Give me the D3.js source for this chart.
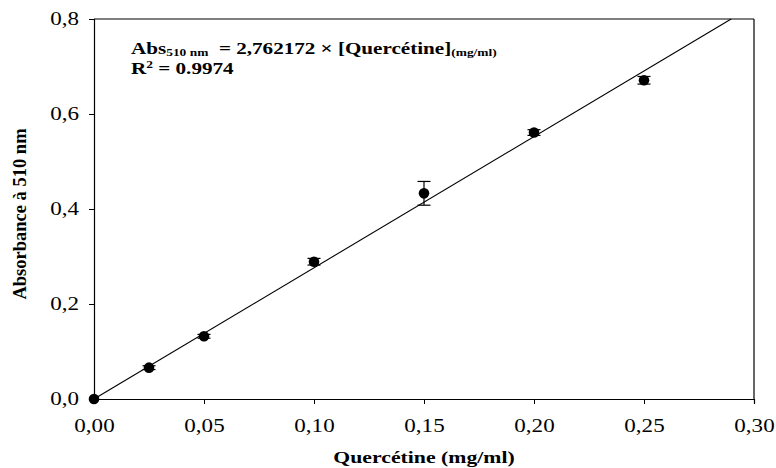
<!DOCTYPE html>
<html>
<head>
<meta charset="utf-8">
<script src="https://cdn.jsdelivr.net/npm/d3@7"></script>
<style>
  body { margin: 0; background: #fff; }
  svg { display: block; font-family: "Liberation Serif", "Times New Roman", serif; }
</style>
</head>
<body>
<svg id="chart"></svg>
<script>
// Concentrations de quercétine (mg/ml)
const concentrations = [0, 0.025, 0.05, 0.10, 0.15, 0.20, 0.25];
// Absorbance moyenne à 510 nm
const absorbances = [0, 0.066, 0.132, 0.289, 0.433, 0.561, 0.671];
// Ecart-type
const ecarts = [0, 0.004, 0.004, 0.007, 0.025, 0.006, 0.008];

const xTicks = [0, 0.05, 0.10, 0.15, 0.20, 0.25, 0.30];
const yTicks = [0, 0.2, 0.4, 0.6, 0.8];

const pente = 2.762172;

// the original picture is stretched sideways, text too
const etire = 1.28;

const width = 776, height = 468;
const margin = { top: 19, right: 22, bottom: 69, left: 94 };
const w = width - margin.left - margin.right;
const h = height - margin.top - margin.bottom;

const svg = d3.select("#chart")
    .attr("width", width)
    .attr("height", height);

const g = svg.append("g")
    .attr("transform", "translate(" + margin.left + "," + margin.top + ")");

const x = d3.scaleLinear().domain([0, 0.30]).range([0, w]);
const y = d3.scaleLinear().domain([0, 0.8]).range([h, 0]);

const fmt = (d, n) => d.toFixed(n).replace(".", ",");

// x axis
const xAxis = g.append("g")
    .attr("transform", "translate(0," + h + ")")
    .call(d3.axisBottom(x).tickValues(xTicks).tickSize(5).tickPadding(9).tickFormat(d => fmt(d, 2)));

// y axis
const yAxis = g.append("g")
    .call(d3.axisLeft(y).tickValues(yTicks).tickSize(5).tickPadding(10).tickFormat(d => fmt(d, 1)));

[xAxis, yAxis].forEach(a => {
    a.select(".domain").attr("stroke", "#000").attr("stroke-width", 1.2);
    a.selectAll(".tick line").attr("stroke", "#000");
    a.selectAll(".tick text")
        .attr("fill", "#000")
        .style("font-family", "'Liberation Serif', serif")
        .style("font-size", "18px");
});
xAxis.selectAll(".tick text").attr("transform", "scale(" + etire + ",1)").attr("dy", "1.05em");
yAxis.selectAll(".tick text").attr("x", -15 / etire).attr("transform", "scale(" + etire + ",1)");

// top and right frame
g.append("line").attr("x1", 0).attr("x2", w).attr("y1", 0).attr("y2", 0)
    .attr("stroke", "#000").attr("stroke-width", 1.2);
g.append("line").attr("x1", w).attr("x2", w).attr("y1", 0).attr("y2", h)
    .attr("stroke", "#000").attr("stroke-width", 1.2);

// regression line
const xFin = Math.min(0.30, 0.8 / pente);
g.append("line")
    .attr("x1", x(0)).attr("y1", y(0))
    .attr("x2", x(xFin)).attr("y2", y(pente * xFin))
    .attr("stroke", "#000")
    .attr("stroke-width", 1.1);

const data = concentrations.map((c, i) => ({ c: c, a: absorbances[i], e: ecarts[i] }));

// error bars
const eb = g.selectAll(".err")
    .data(data.filter(d => d.e > 0))
    .enter().append("g")
    .attr("class", "err")
    .attr("stroke", "#000")
    .attr("stroke-width", 1.2);

eb.append("line")
    .attr("x1", d => x(d.c)).attr("x2", d => x(d.c))
    .attr("y1", d => y(d.a - d.e)).attr("y2", d => y(d.a + d.e));
eb.append("line")
    .attr("x1", d => x(d.c) - 6.5).attr("x2", d => x(d.c) + 6.5)
    .attr("y1", d => y(d.a - d.e)).attr("y2", d => y(d.a - d.e));
eb.append("line")
    .attr("x1", d => x(d.c) - 6.5).attr("x2", d => x(d.c) + 6.5)
    .attr("y1", d => y(d.a + d.e)).attr("y2", d => y(d.a + d.e));

// points
g.selectAll("circle")
    .data(data)
    .enter().append("circle")
    .attr("cx", d => x(d.c))
    .attr("cy", d => y(d.a))
    .attr("r", 5.3)
    .attr("fill", "#000");

// equation
const eq = svg.append("text")
    .attr("transform", "translate(131,54) scale(" + etire + ",1)")
    .attr("font-weight", "bold")
    .attr("font-size", "16.5px");
eq.append("tspan").text("Abs");
eq.append("tspan").attr("font-size", "10.5px").attr("dy", 2).text("510 nm");
eq.append("tspan").attr("dy", -2).text("\u00a0 = 2,762172 × [Quercétine]");
eq.append("tspan").attr("font-size", "10.5px").attr("dy", 2).text("(mg/ml)");

const r2 = svg.append("text")
    .attr("transform", "translate(131,74) scale(" + etire + ",1)")
    .attr("font-weight", "bold")
    .attr("font-size", "16.5px");
r2.append("tspan").text("R");
r2.append("tspan").attr("font-size", "10.5px").attr("dy", -6).text("2");
r2.append("tspan").attr("dy", 6).text(" = 0.9974");

// axis labels
svg.append("text")
    .attr("transform", "translate(" + (margin.left + w / 2) + ",463) scale(" + etire + ",1)")
    .attr("text-anchor", "middle")
    .attr("font-weight", "bold")
    .attr("font-size", "17px")
    .text("Quercétine (mg/ml)");

svg.append("text")
    .attr("transform", "translate(26,214) rotate(-90)")
    .attr("text-anchor", "middle")
    .attr("font-weight", "bold")
    .attr("font-size", "18.5px")
    .text("Absorbance à 510 nm");
</script>
</body>
</html>
